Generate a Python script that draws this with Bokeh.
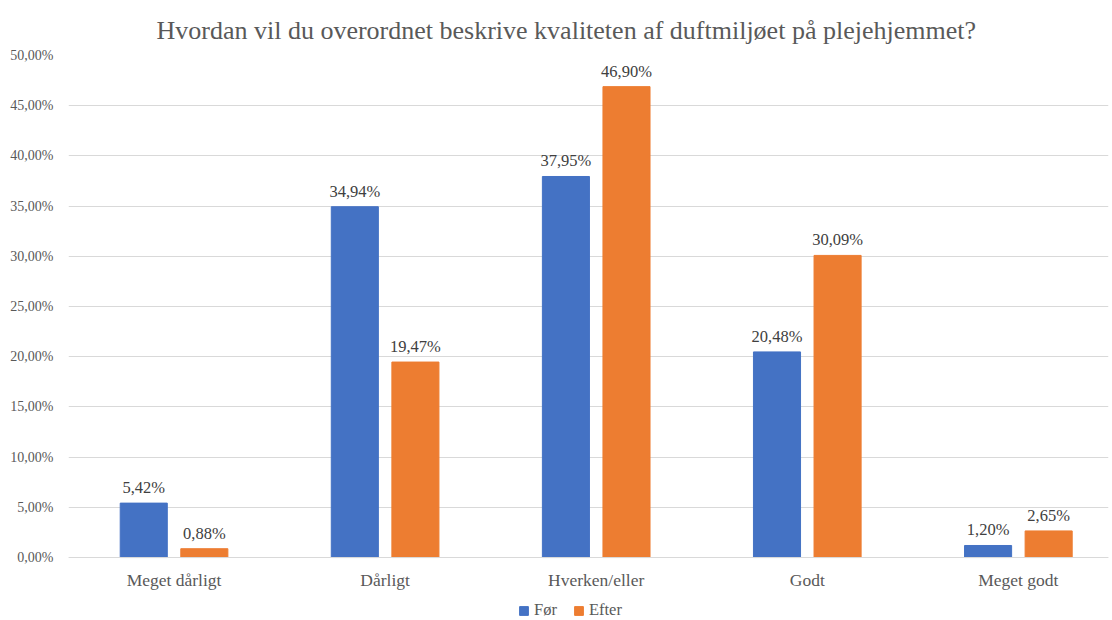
from bokeh.plotting import figure
from bokeh.models import (ColumnDataSource, FixedTicker, Legend, LegendItem,
                          Range1d, LabelSet)
from bokeh.embed import file_html
from bokeh.resources import INLINE

categories = ["Meget dårligt", "Dårligt", "Hverken/eller", "Godt", "Meget godt"]
foer = [5.42, 34.94, 37.95, 20.48, 1.20]
efter = [0.88, 19.47, 46.90, 30.09, 2.65]
y_ticks = [0, 5, 10, 15, 20, 25, 30, 35, 40, 45, 50]
y_tick_labels = ["0,00%", "5,00%", "10,00%", "15,00%", "20,00%", "25,00%",
                 "30,00%", "35,00%", "40,00%", "45,00%", "50,00%"]
series_names = ["Før", "Efter"]
title_text = "Hvordan vil du overordnet beskrive kvaliteten af duftmiljøet på plejehjemmet?"

FONT = "Liberation Serif"
BLUE = "#4472C4"
ORANGE = "#ED7D31"
GRID = "#D9D9D9"
TXT = "#595959"

def fmt(v):
    return f"{v:.2f}".replace(".", ",") + "%"

xs = list(range(len(categories)))
off = 0.1435
bw = 0.223

src_f = ColumnDataSource(dict(x=[x - off for x in xs], top=foer,
                              lab=[fmt(v) for v in foer]))
src_e = ColumnDataSource(dict(x=[x + off for x in xs], top=efter,
                              lab=[fmt(v) for v in efter]))

p = figure(width=1112, height=620, output_backend="svg", toolbar_location=None,
           x_range=Range1d(-0.5, 4.427), y_range=Range1d(-6.27, 50),
           min_border_left=68, min_border_right=4, min_border_top=55,
           min_border_bottom=0)
p.outline_line_color = None
p.background_fill_color = "white"
p.border_fill_color = "white"

p.title.text = title_text
p.title.text_font = FONT
p.title.text_font_size = "26px"
p.title.text_font_style = "normal"
p.title.text_color = TXT
p.title.align = "left"
p.title.offset = 88
p.title.standoff = 21

rf = p.vbar(x="x", top="top", width=bw, source=src_f, fill_color=BLUE,
            line_color=BLUE)
re_ = p.vbar(x="x", top="top", width=bw, source=src_e, fill_color=ORANGE,
             line_color=ORANGE)

for src in (src_f, src_e):
    ls = LabelSet(x="x", y="top", text="lab", source=src, y_offset=6,
                  text_align="center", text_baseline="bottom",
                  text_font=FONT, text_font_size="16.5px", text_color="#404040")
    p.add_layout(ls)

# axes
p.xaxis.fixed_location = 0
p.xaxis.ticker = FixedTicker(ticks=xs)
p.xaxis.major_label_overrides = {i: c for i, c in enumerate(categories)}
p.xaxis.major_label_text_font = FONT
p.xaxis.major_label_text_font_size = "17.5px"
p.xaxis.major_label_text_color = TXT
p.xaxis.major_tick_line_color = None
p.xaxis.minor_tick_line_color = None
p.xaxis.axis_line_color = GRID
p.xaxis.major_label_standoff = 6
p.xgrid.grid_line_color = None

p.yaxis.ticker = FixedTicker(ticks=y_ticks)
p.yaxis.major_label_overrides = {t: l for t, l in zip(y_ticks, y_tick_labels)}
p.yaxis.major_label_text_font = FONT
p.yaxis.major_label_text_font_size = "14px"
p.yaxis.major_label_text_color = TXT
p.yaxis.major_tick_line_color = None
p.yaxis.minor_tick_line_color = None
p.yaxis.axis_line_color = None
p.yaxis.major_label_standoff = 9
p.ygrid.grid_line_color = GRID
p.ygrid.ticker = FixedTicker(ticks=y_ticks)

legend = Legend(items=[LegendItem(label=series_names[0], renderers=[rf]),
                       LegendItem(label=series_names[1], renderers=[re_])],
                orientation="horizontal", location=(450, 0),
                label_text_font=FONT, label_text_font_size="16.5px",
                label_text_color=TXT, glyph_width=11, glyph_height=11,
                label_standoff=5, spacing=16, padding=1, margin=0,
                background_fill_alpha=0, border_line_color=None)
p.add_layout(legend, "center")

open("out.html", "w").write(file_html(p, INLINE))
